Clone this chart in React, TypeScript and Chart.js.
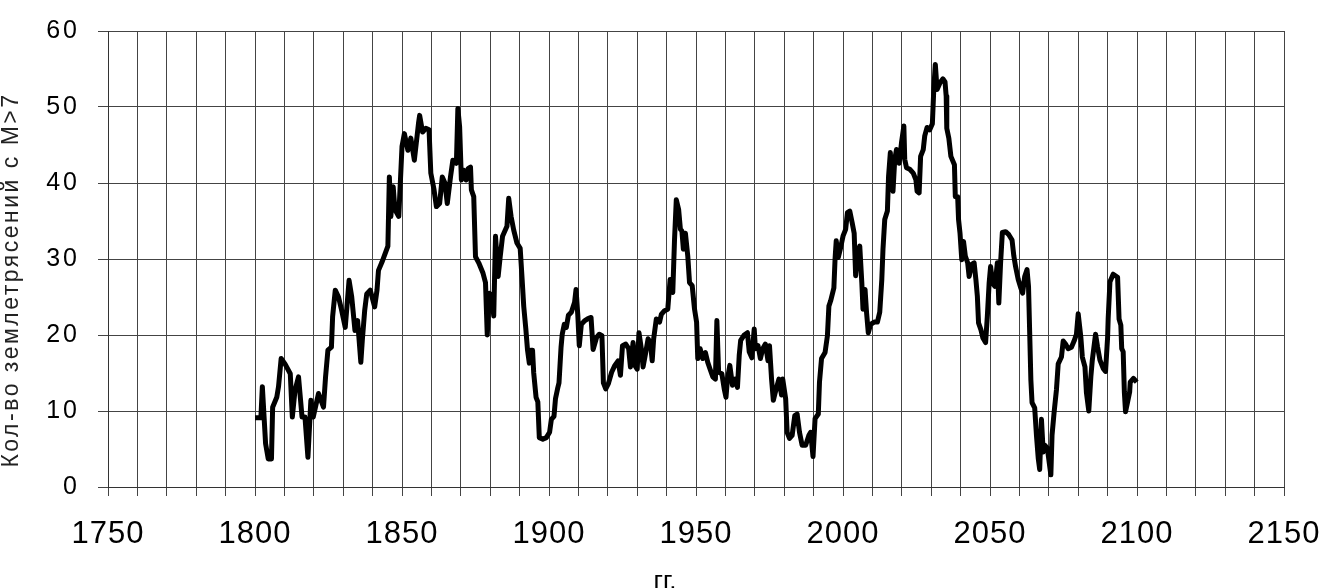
import React, { useEffect, useRef } from "react";
import { Chart, registerables } from "chart.js";

Chart.register(...registerables);

const years = [
  1800, 1802, 1802.5, 1803.6, 1804.5, 1805.6, 1806, 1807.4, 1808, 1808.9,
  1810.2, 1812, 1812.7, 1813.6, 1814.8, 1816, 1817, 1818, 1819, 1819.8,
  1821.6, 1823.3, 1824, 1824.8, 1826, 1826.4, 1827.3, 1828.4, 1829.5, 1830.7,
  1832, 1832.9, 1834, 1834.9, 1836, 1836.5, 1837.3, 1838, 1839.2, 1840.7,
  1841.5, 1842, 1843.2, 1845.2, 1845.7, 1846.2, 1847, 1847.6, 1848.9, 1850,
  1850.8, 1852, 1853, 1854.2, 1855.6, 1856, 1857, 1858.1, 1859.2, 1859.8,
  1860.9, 1861.7, 1862.8, 1863.7, 1864.6, 1865.4, 1866.5, 1867.3, 1868.5, 1869,
  1869.6, 1870.2, 1871, 1871.8, 1872.5, 1873.3, 1873.6, 1874.4, 1875, 1876.1,
  1877.5, 1878.4, 1879, 1879.7, 1880.6, 1881.2, 1881.8, 1882.7, 1883.4, 1884.2,
  1885.7, 1886.3, 1887.1, 1888, 1889.1, 1890.2, 1890.8, 1891.4, 1892.1, 1892.7,
  1893.3, 1893.8, 1894.4, 1894.8, 1895.6, 1896.2, 1896.7, 1897.9, 1899.1, 1900.2,
  1900.8, 1901.7, 1902.2, 1902.9, 1903.4, 1904.1, 1904.5, 1905.2, 1905.9, 1906.6,
  1907.6, 1908.7, 1909.2, 1909.8, 1910.3, 1911, 1912.2, 1913.4, 1914.3, 1915,
  1916.2, 1917.1, 1918, 1918.5, 1919.3, 1920.2, 1921.3, 1922.4, 1923.5, 1924.3,
  1925, 1926.1, 1927.1, 1927.7, 1928.6, 1929.2, 1930, 1930.6, 1931.4, 1932,
  1932.9, 1933.7, 1934.5, 1935.1, 1935.6, 1936.5, 1937.6, 1938.2, 1939.3, 1940.4,
  1941.2, 1942.1, 1942.7, 1943.3, 1944.1, 1944.7, 1945.2, 1945.7, 1946.4, 1947.2,
  1947.8, 1948.7, 1949.5, 1950.2, 1950.6, 1951.4, 1952.3, 1953.2, 1954, 1954.8,
  1955.7, 1956.6, 1957.1, 1957.7, 1958.8, 1959.6, 1960.2, 1960.7, 1961.5, 1962.4,
  1963.3, 1964.1, 1964.7, 1965.2, 1966.4, 1967.5, 1968.1, 1969, 1969.8, 1970.2,
  1971.1, 1971.9, 1972.7, 1973.6, 1974.5, 1975, 1975.7, 1976.3, 1977, 1978.2,
  1979.1, 1979.5, 1980.5, 1981, 1981.8, 1982.7, 1983.6, 1984.4, 1985.2, 1986.1,
  1987.3, 1988.4, 1989, 1989.8, 1990.5, 1991.6, 1992, 1992.7, 1993.9, 1994.7,
  1995.2, 1995.8, 1996.9, 1997.3, 1997.7, 1998.4, 1999.2, 2000, 2000.9, 2001.5,
  2002.3, 2003.1, 2003.8, 2004.3, 2004.9, 2005.7, 2006.4, 2006.8, 2007.5, 2008,
  2008.6, 2009.4, 2010.6, 2011.7, 2012.5, 2013.2, 2013.6, 2014.2, 2015.1, 2015.5,
  2016.1, 2016.6, 2017, 2017.6, 2018.2, 2019.1, 2019.9, 2020.7, 2021, 2021.6,
  2022.7, 2023.9, 2024.8, 2025.2, 2025.9, 2026.4, 2027.3, 2027.8, 2028.6, 2029.5,
  2030.4, 2030.9, 2031.4, 2032, 2033, 2034, 2034.7, 2035.1, 2035.3, 2036,
  2036.7, 2037.9, 2038.2, 2039, 2039.3, 2039.8, 2040.4, 2041, 2041.6, 2042.4,
  2042.9, 2043.8, 2044.6, 2045.2, 2045.7, 2046.1, 2046.9, 2047.6, 2048.5, 2049.1,
  2049.7, 2050.2, 2050.9, 2051.7, 2052.5, 2053, 2053.6, 2054.2, 2055.3, 2056.4,
  2057.5, 2058.1, 2058.7, 2059.6, 2060.3, 2061.1, 2061.8, 2062.6, 2063.1, 2063.5,
  2063.9, 2064.3, 2065.2, 2065.8, 2066.4, 2066.9, 2067.5, 2068.1, 2068.6, 2069.5,
  2070.7, 2071.1, 2071.8, 2072.6, 2073.2, 2074.3, 2074.9, 2075.7, 2076.6, 2077.7,
  2078.6, 2079.4, 2080, 2080.9, 2081.4, 2082.3, 2082.8, 2083.6, 2084.3, 2084.8,
  2085.9, 2086.6, 2087.4, 2088.5, 2089.3, 2090, 2090.2, 2090.8, 2091.9, 2093.4,
  2093.9, 2094.5, 2094.8, 2095.3, 2095.7, 2096.1, 2096.8, 2097.5, 2097.7, 2098.8,
  2099.9,
];

const counts = [
  9.1, 9.1, 13.2, 5.7, 3.7, 3.7, 10.5, 11.8, 13.2, 16.9,
  16.2, 14.9, 9.2, 12.7, 14.5, 9.2, 9.2, 3.9, 11.4, 9.2,
  12.3, 10.5, 14.5, 18, 18.4, 22.4, 25.9, 25, 23.2, 21,
  27.2, 25, 20.6, 21.9, 16.4, 19.3, 23.2, 25.4, 25.9, 23.7,
  25.9, 28.5, 29.6, 31.7, 40.8, 35.6, 39.5, 36.5, 35.6, 44.8,
  46.5, 44.3, 45.9, 43, 47.8, 48.9, 46.7, 47.2, 47, 41.3,
  39.1, 36.9, 37.3, 40.8, 40, 37.3, 40.8, 43, 42.6, 49.8,
  47.4, 40.4, 41.7, 40.4, 41.9, 42.1, 39.1, 38.2, 30.3, 29.5,
  28.2, 26.9, 20, 25.5, 25, 22.5, 33, 27.7, 30.3, 33,
  34.3, 38, 35.6, 33.8, 32.1, 31.4, 27.7, 23.8, 20.9, 18,
  16.3, 18, 18, 15, 11.8, 11.2, 6.5, 6.3, 6.5, 7.2,
  8.9, 9.3, 11.6, 12.9, 13.7, 18.4, 20.1, 21.4, 21, 22.6,
  23, 24.3, 26, 22.6, 18.6, 21.4, 21.9, 22.2, 22.3, 18.1,
  19.7, 20.1, 19.9, 13.7, 12.9, 13.6, 15.1, 16, 16.6, 14.7,
  18.6, 18.8, 18.2, 15.8, 19, 16, 15.5, 20.3, 18.2, 15.8,
  17.7, 19.5, 19, 16.6, 19.5, 22.1, 21.7, 22.7, 23.2, 23.4,
  27.3, 25.6, 32.6, 37.8, 36.5, 33.9, 33.7, 31.3, 33.4, 30.4,
  26.9, 26.5, 23.4, 21.7, 16.9, 18.2, 16.9, 17.7, 16.4, 15.5,
  14.5, 14.2, 21.9, 15.1, 14.9, 12.9, 11.8, 14.2, 16, 13.4,
  14.2, 13.1, 17.3, 19.3, 20, 20.3, 17.8, 17, 20.8, 18.2,
  18.6, 16.9, 18.2, 18.8, 16.6, 18.6, 14.2, 11.4, 12.5, 14.2,
  12.1, 14.2, 11.6, 7.2, 6.4, 6.8, 9.4, 9.6, 7.2, 5.5,
  5.5, 6.8, 7.2, 4, 9, 9.6, 13.8, 16.9, 17.7, 19.9,
  23.8, 24.5, 26.2, 30, 32.4, 30.2, 31.5, 33, 33.9, 36.1,
  36.3, 34.8, 33.4, 27.8, 30.4, 31.7, 26.9, 23.4, 26, 23,
  20.3, 21.4, 21.7, 21.7, 23, 27.3, 31.3, 35.2, 36.3, 40.9,
  44, 40.4, 38.9, 43.1, 44.4, 42.6, 45.3, 47.5, 43.1, 42,
  41.8, 41.3, 40.4, 38.9, 38.7, 43.5, 44.4, 46.2, 47.3, 47,
  47.8, 52.5, 55.6, 52.3, 53.2, 53.7, 53.3, 51.4, 47.2, 45.9,
  43.5, 42.4, 38.2, 38.2, 35.2, 33.4, 29.9, 32.3, 30.4, 29.5,
  27.7, 29.3, 29.5, 27.3, 25.1, 21.6, 20.7, 19.6, 19, 22.5,
  26.8, 29, 26.8, 26.4, 29.5, 24.2, 29.5, 33.5, 33.6, 33.2,
  32.5, 30.4, 29, 27.3, 26.4, 25.5, 27.7, 28.6, 26.4, 20.3,
  14.1, 11.1, 10.4, 6.8, 3.8, 2.3, 8.9, 4.6, 5.5, 5.1,
  1.6, 6.8, 9.8, 12.8, 16.2, 17.1, 19.2, 18.8, 18.2, 18.4,
  19.2, 20.1, 22.8, 19.7, 17.1, 15.8, 12.4, 10, 14.5, 16.7,
  20.1, 18.4, 16.7, 15.6, 15.2, 19.7, 22.2, 27, 28, 27.6,
  22.1, 21.3, 18.2, 17.8, 12.5, 9.9, 11.2, 12.5, 13.8, 14.3,
  13.8,
];

const labelYears = [1750, 1800, 1850, 1900, 1950, 2000, 2050, 2100, 2150];
const yTitle = "Кол-во землетрясений с M>7";
const xTitle = "гг.";

const FONT = "Arial, 'Liberation Sans', sans-serif";

function spaceLabels(scale: any, spacing: string) {
  if (scale.__spaced) return;
  scale.__spaced = true;
  const orig = scale.drawLabels.bind(scale);
  scale.drawLabels = (area: any) => {
    const ctx = scale.ctx;
    ctx.save();
    (ctx as any).letterSpacing = spacing;
    orig(area);
    ctx.restore();
  };
}

const titlesPlugin = {
  id: "titles",
  afterDraw(chart: any) {
    const ctx = chart.ctx;
    ctx.save();
    ctx.fillStyle = "#222";
    ctx.font = `23px ${FONT}`;
    (ctx as any).letterSpacing = "2.5px";
    ctx.translate(18, 280);
    ctx.rotate(-Math.PI / 2);
    ctx.textAlign = "center";
    ctx.textBaseline = "alphabetic";
    ctx.fillText(yTitle, 0, 0);
    ctx.restore();

    ctx.save();
    ctx.fillStyle = "#000";
    ctx.font = `26px ${FONT}`;
    ctx.textAlign = "center";
    ctx.textBaseline = "alphabetic";
    ctx.fillText(xTitle, 665, 589);
    ctx.restore();
  },
};

export default function App() {
  const ref = useRef<HTMLCanvasElement | null>(null);

  useEffect(() => {
    if (!ref.current) return;
    const points = years.map((x, i) => ({ x, y: counts[i] }));
    const chart = new Chart(ref.current, {
      type: "line",
      data: {
        datasets: [
          {
            data: points,
            borderColor: "#000",
            borderWidth: 5,
            borderJoinStyle: "round",
            pointRadius: 0,
            tension: 0,
            fill: false,
          },
        ],
      },
      options: {
        animation: false,
        responsive: true,
        maintainAspectRatio: false,
        layout: { padding: { left: 0, top: 31, right: 43, bottom: 0 } },
        plugins: { legend: { display: false }, tooltip: { enabled: false } },
        scales: {
          x: {
            type: "linear",
            min: 1750,
            max: 2150,
            afterFit: (scale: any) => {
              scale.height = 101;
              scale.paddingLeft = 0;
              scale.paddingRight = 0;
              spaceLabels(scale, "1px");
            },
            ticks: {
              stepSize: 10,
              maxTicksLimit: 100,
              autoSkip: false,
              maxRotation: 0,
              padding: 20,
              color: "#000",
              font: { family: FONT, size: 31 },
              callback: (v: any) => (labelYears.includes(Number(v)) ? String(v) : ""),
            },
            grid: { color: "#444", lineWidth: 1, tickLength: 9, drawTicks: true },
            border: { color: "#333", width: 1 },
          },
          y: {
            min: 0,
            max: 60,
            afterFit: (scale: any) => {
              scale.width = 108;
              scale.paddingTop = 0;
              scale.paddingBottom = 0;
              spaceLabels(scale, "3px");
            },
            ticks: {
              stepSize: 10,
              padding: 18,
              color: "#000",
              font: { family: FONT, size: 25 },
            },
            grid: { color: "#444", lineWidth: 1, tickLength: 10 },
            border: { color: "#333", width: 1 },
          },
        },
      },
      plugins: [titlesPlugin],
    });
    return () => chart.destroy();
  }, []);

  return (
    <div style={{ position: "absolute", left: 0, top: 0, width: 1327, height: 588, background: "#fff" }}>
      <canvas ref={ref} />
    </div>
  );
}
